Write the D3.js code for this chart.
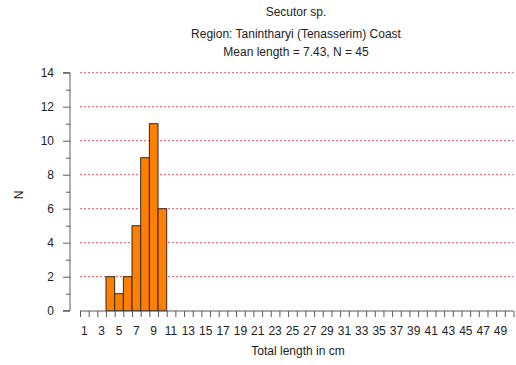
<!DOCTYPE html>
<html>
<head>
<meta charset="utf-8">
<script src="https://cdn.jsdelivr.net/npm/d3@7"></script>
<style>
  html, body { margin: 0; padding: 0; background: #fff; }
  svg { display: block; font-family: "Liberation Sans", Arial, sans-serif; }
</style>
</head>
<body>
<svg id="chart" width="516" height="365"></svg>
<script>
// Length-frequency histogram, 1 cm classes
const titleLines = ["Secutor sp.", "Region: Tanintharyi (Tenasserim) Coast", "Mean length = 7.43, N = 45"];
const lengthClasses = [4, 5, 6, 7, 8, 9, 10];
const counts = [2, 1, 2, 5, 9, 11, 6];
const xTickLabels = d3.range(1, 50, 2);
const yTicks = [0, 2, 4, 6, 8, 10, 12, 14];
const gridValues = [2, 4, 6, 8, 10, 12, 14];

const svg = d3.select("#chart");
const axisColor = "#5a5a5a";

const x = d3.scaleLinear().domain([0, 50]).range([80, 513.5]);
const y = d3.scaleLinear().domain([0, 14]).range([310.7, 72.7]);

// titles
svg.selectAll("text.title").data(titleLines).join("text")
  .attr("class", "title")
  .attr("x", 296)
  .attr("y", (d, i) => [16, 38, 56][i])
  .attr("text-anchor", "middle")
  .attr("font-size", 12)
  .attr("fill", "#222")
  .text(d => d);

// grid
svg.append("g").selectAll("line").data(gridValues).join("line")
  .attr("x1", 80).attr("x2", 513.5)
  .attr("y1", d => y(d)).attr("y2", d => y(d))
  .attr("stroke", "#e83a3a")
  .attr("stroke-width", 1)
  .attr("stroke-dasharray", "2,2")
  .attr("opacity", 0.85);

// bars
svg.append("g").selectAll("rect").data(counts).join("rect")
  .attr("x", (d, i) => x(lengthClasses[i] - 1))
  .attr("width", (d, i) => x(lengthClasses[i]) - x(lengthClasses[i] - 1))
  .attr("y", d => y(d))
  .attr("height", d => y(0) - y(d))
  .attr("fill", "#ff8000")
  .attr("stroke", "#33281c")
  .attr("stroke-width", 1);

// y axis: major ticks on even values, minor ticks on odd values
const yAxisG = svg.append("g").attr("transform", "translate(70,0)");
yAxisG.call(d3.axisLeft(y).tickValues(yTicks).tickSize(7).tickPadding(9).tickFormat(d3.format("d")));
yAxisG.append("g").call(d3.axisLeft(y).tickValues(d3.range(1, 14, 2)).tickSize(4).tickFormat(""));
yAxisG.selectAll("g > path.domain").attr("stroke", axisColor);
yAxisG.select("g > g path.domain").remove();
yAxisG.selectAll("line").attr("stroke", axisColor);
yAxisG.selectAll("text").attr("font-size", 12).attr("fill", "#222")
  .attr("font-family", "Liberation Sans, Arial, sans-serif");
yAxisG.select("path.domain").attr("d", `M-7,${y(14)}H0V${y(0)}H-7`);

// x axis: a tick at every class boundary, labels at odd class centres
const xAxisG = svg.append("g").attr("transform", "translate(0,311)");
xAxisG.call(d3.axisBottom(x).tickValues(d3.range(0, 51)).tickSize(6).tickFormat(""));
xAxisG.select("path.domain").attr("d", `M${x(0)},0H${x(50)}`).attr("stroke", axisColor);
xAxisG.selectAll("line").attr("stroke", axisColor);
xAxisG.selectAll("text.lbl").data(xTickLabels).join("text")
  .attr("class", "lbl")
  .attr("x", d => x(d - 0.5))
  .attr("y", 24)
  .attr("text-anchor", "middle")
  .attr("font-size", 12)
  .attr("fill", "#222")
  .text(d => d);

// axis titles
svg.append("text")
  .attr("x", 298).attr("y", 355)
  .attr("text-anchor", "middle")
  .attr("font-size", 12).attr("fill", "#222")
  .text("Total length in cm");
svg.append("text")
  .attr("transform", "translate(23,195) rotate(-90)")
  .attr("text-anchor", "middle")
  .attr("font-size", 12).attr("fill", "#222")
  .text("N");
</script>
</body>
</html>
